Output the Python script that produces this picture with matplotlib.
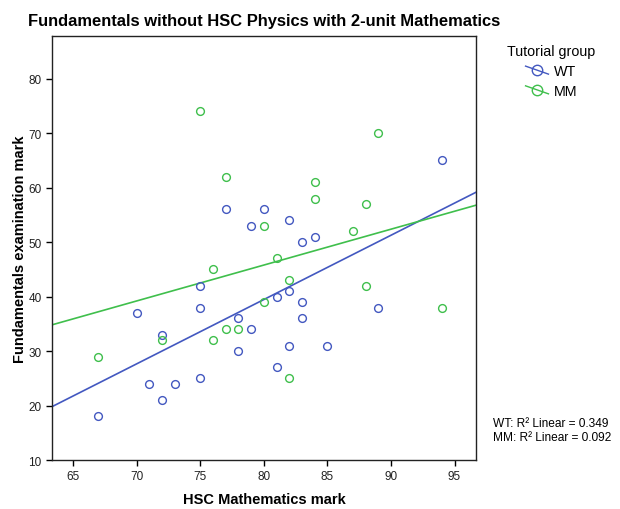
import numpy as np
import matplotlib.pyplot as plt
from matplotlib.lines import Line2D
from matplotlib.legend_handler import HandlerBase

plt.rcParams['font.family'] = ['Liberation Sans', 'DejaVu Sans']

# Dados
wt_hsc = [67, 70, 71, 72, 72, 73, 75, 75, 75, 77, 78, 78, 79, 79,
          80, 81, 81, 82, 82, 82, 83, 83, 83, 84, 85, 89, 94]
wt_fund = [18, 37, 24, 33, 21, 24, 42, 38, 25, 56, 36, 30, 53, 34,
           56, 40, 27, 54, 41, 31, 50, 39, 36, 51, 31, 38, 65]

mm_hsc = [67, 72, 75, 76, 76, 77, 77, 78, 80, 80,
          81, 82, 82, 84, 84, 87, 88, 88, 89, 94]
mm_fund = [29, 32, 74, 45, 32, 62, 34, 34, 53, 39,
           47, 43, 25, 61, 58, 52, 57, 42, 70, 38]

grupos = ['WT', 'MM']
cores = ['#4358c0', '#3fbf4c']
r2_textos = ['WT: R\u00b2 Linear = 0.349', 'MM: R\u00b2 Linear = 0.092']

x_ticks = [65, 70, 75, 80, 85, 90, 95]
y_ticks = [10, 20, 30, 40, 50, 60, 70, 80]
xlim = (63.35, 96.7)
ylim = (10, 87.8)


# Legenda no estilo SPSS: linha diagonal atravessando o círculo
class HandlerDiagonal(HandlerBase):
    def create_artists(self, legend, orig_handle, xdescent, ydescent,
                       width, height, fontsize, trans):
        cor = orig_handle.get_color()
        x0, x1 = -xdescent, width - xdescent
        yc = height / 2 - ydescent
        linha = Line2D([x0, x1], [yc + 0.4 * height, yc - 0.4 * height],
                       color=cor, lw=1.0, transform=trans)
        circ = Line2D([(x0 + x1) / 2], [yc], marker='o', mfc='none', mec=cor,
                      mew=1.0, ms=7.5, ls='none', transform=trans)
        return [linha, circ]


fig = plt.figure(figsize=(6.2, 5.1), dpi=100)
ax = fig.add_axes([0.084, 0.096, 0.684, 0.831])

series = [(wt_hsc, wt_fund), (mm_hsc, mm_fund)]
handles = []
for (xs, ys), nome, cor in zip(series, grupos, cores):
    # Reta de regressão linear em toda a largura do eixo
    a, b = np.polyfit(xs, ys, 1)
    xx = np.array(xlim)
    ax.plot(xx, a * xx + b, color=cor, lw=1.2, zorder=2)
    ax.plot(xs, ys, 'o', mfc='none', mec=cor, mew=1.0, ms=5.6, zorder=3)
    handles.append(Line2D([], [], color=cor, label=nome))

ax.set_xlim(xlim)
ax.set_ylim(ylim)
ax.set_xticks(x_ticks)
ax.set_yticks(y_ticks)
ax.tick_params(direction='out', length=4, width=1, labelsize=8.5, colors='black',
               labelcolor='#222222')
for s in ax.spines.values():
    s.set_linewidth(1)
    s.set_color('#222222')

ax.set_xlabel('HSC Mathematics mark', fontsize=10.5, fontweight='bold', labelpad=7)
ax.set_ylabel('Fundamentals examination mark', fontsize=10.5, fontweight='bold', labelpad=1)
fig.text(0.045, 0.957, 'Fundamentals without HSC Physics with 2-unit Mathematics',
         fontsize=11.9, fontweight='bold', ha='left', va='center')

leg = ax.legend(handles=handles, loc='upper left', bbox_to_anchor=(0.807, 0.925),
                bbox_transform=fig.transFigure, frameon=False,
                title='Tutorial group', fontsize=10.3, title_fontsize=10.3,
                handlelength=1.6, handletextpad=0.4, labelspacing=0.4,
                borderpad=0, handler_map={Line2D: HandlerDiagonal()})

for i, t in enumerate(r2_textos):
    fig.text(0.795, 0.168 - i * 0.026, t, fontsize=8.6, ha='left', va='center')

fig.savefig('out.png', dpi=100)
